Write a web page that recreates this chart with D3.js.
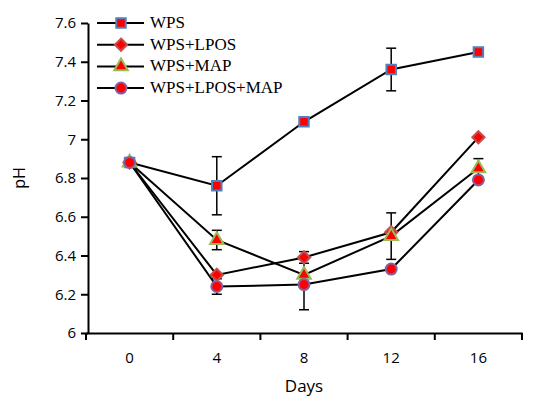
<!DOCTYPE html>
<html>
<head>
<meta charset="utf-8">
<script src="https://cdn.jsdelivr.net/npm/d3@7"></script>
<style>
  body { margin: 0; background: #fff; }
  svg { display: block; }
  .tick text { font-family: "Open Sans", sans-serif; font-size: 15px; fill: #000; }
</style>
</head>
<body>
<div class="svg-content"></div>
<script>
// data
var days = ["0", "4", "8", "12", "16"];
var seriesNames = ["WPS", "WPS+LPOS", "WPS+MAP", "WPS+LPOS+MAP"];
var wps        = [6.88, 6.76, 7.09, 7.36, 7.45];
var wpsLpos    = [6.88, 6.30, 6.39, 6.52, 7.01];
var wpsMap     = [6.88, 6.48, 6.30, 6.50, 6.85];
var wpsLposMap = [6.88, 6.24, 6.25, 6.33, 6.79];
var wpsErr        = [0, 0.15, 0.02, 0.11, 0];
var wpsLposErr    = [0, 0, 0.03, 0, 0];
var wpsMapErr     = [0, 0.05, 0, 0.12, 0.05];
var wpsLposMapErr = [0, 0.04, 0.13, 0, 0];
var yTicks = [6, 6.2, 6.4, 6.6, 6.8, 7, 7.2, 7.4, 7.6];

// square diamond (rotated square) marker
var diamond = {
  draw: function(ctx, size) {
    var r = Math.sqrt(size / 2);
    ctx.moveTo(0, -r); ctx.lineTo(r, 0); ctx.lineTo(0, r); ctx.lineTo(-r, 0); ctx.closePath();
  }
};

var series = [
  { name: seriesNames[0], values: wps,        err: wpsErr,        shape: d3.symbolSquare,   stroke: "#4f81bd", size: 90 },
  { name: seriesNames[1], values: wpsLpos,    err: wpsLposErr,    shape: diamond,           stroke: "#c0504d", size: 75 },
  { name: seriesNames[2], values: wpsMap,     err: wpsMapErr,     shape: d3.symbolTriangle, stroke: "#9bbb59", size: 80 },
  { name: seriesNames[3], values: wpsLposMap, err: wpsLposMapErr, shape: d3.symbolCircle,   stroke: "#8064a2", size: 95 }
];

var W = 536, H = 396;
var mLeft = 86, mRight = 522, mTop = 23, mBottom = 333;

var svg = d3.select(".svg-content").append("svg")
    .attr("width", W)
    .attr("height", H);

var x = d3.scaleBand().domain(days).range([mLeft, mRight]).padding(0);
var y = d3.scaleLinear().domain([6, 7.6]).range([mBottom, mTop]);
var cx = function(i) { return x(days[i]) + x.bandwidth() / 2; };

// y axis
var yAxis = svg.append("g")
    .attr("transform", "translate(" + (mLeft + 2) + ",0)")
    .call(d3.axisLeft(y).tickValues(yTicks).tickSize(7).tickSizeOuter(0)
        .tickFormat(function(d) { return d3.format("~g")(d); }));
yAxis.select(".domain").attr("stroke-width", 2);
yAxis.selectAll(".tick line").attr("stroke-width", 2);
yAxis.selectAll(".tick text").attr("x", -12);

// x axis: labels in the middle of each band, ticks between bands
var xAxis = svg.append("g")
    .attr("transform", "translate(0," + mBottom + ")")
    .call(d3.axisBottom(x).tickSize(0).tickSizeOuter(0).tickPadding(19));
xAxis.select(".domain").attr("stroke-width", 2);
xAxis.selectAll(".bound")
    .data(days.concat(["end"]))
    .enter().append("line")
    .attr("class", "bound")
    .attr("x1", function(d, i) { return i < days.length ? x(d) : mRight; })
    .attr("x2", function(d, i) { return i < days.length ? x(d) : mRight; })
    .attr("y1", 0).attr("y2", 7)
    .attr("stroke", "#000").attr("stroke-width", 2);

// axis titles
svg.append("text")
    .attr("transform", "translate(25," + ((mTop + mBottom) / 2) + ") rotate(-90)")
    .attr("text-anchor", "middle")
    .attr("font-family", "Open Sans, sans-serif")
    .attr("font-size", 16)
    .text("pH");
svg.append("text")
    .attr("x", (mLeft + mRight) / 2)
    .attr("y", 392)
    .attr("text-anchor", "middle")
    .attr("font-family", "Open Sans, sans-serif")
    .attr("font-size", 17)
    .text("Days");

var line = d3.line()
    .x(function(d, i) { return cx(i); })
    .y(function(d) { return y(d); });

// error bars
series.forEach(function(s) {
  var g = svg.append("g");
  s.values.forEach(function(v, i) {
    var e = s.err[i];
    if (!e) return;
    var xx = cx(i);
    g.append("line").attr("x1", xx).attr("x2", xx).attr("y1", y(v - e)).attr("y2", y(v + e))
        .attr("stroke", "#000").attr("stroke-width", 1.5);
    [v - e, v + e].forEach(function(t) {
      g.append("line").attr("x1", xx - 5).attr("x2", xx + 5).attr("y1", y(t)).attr("y2", y(t))
          .attr("stroke", "#000").attr("stroke-width", 1.5);
    });
  });
});

// lines and markers
series.forEach(function(s) {
  svg.append("path")
      .datum(s.values)
      .attr("d", line)
      .attr("fill", "none")
      .attr("stroke", "#000")
      .attr("stroke-width", 2);
});
series.forEach(function(s) {
  svg.append("g").selectAll("path")
      .data(s.values)
      .enter().append("path")
      .attr("transform", function(d, i) { return "translate(" + cx(i) + "," + y(d) + ")"; })
      .attr("d", d3.symbol().type(s.shape).size(s.size))
      .attr("fill", "#ff0000")
      .attr("stroke", s.stroke)
      .attr("stroke-width", 2);
});

// legend
var legend = svg.append("g");
series.forEach(function(s, i) {
  var ly = 23 + i * 21.7;
  legend.append("line").attr("x1", 97).attr("x2", 144).attr("y1", ly).attr("y2", ly)
      .attr("stroke", "#000").attr("stroke-width", 2);
  legend.append("path")
      .attr("transform", "translate(121," + ly + ")")
      .attr("d", d3.symbol().type(s.shape).size(s.size))
      .attr("fill", "#ff0000")
      .attr("stroke", s.stroke)
      .attr("stroke-width", 2);
  legend.append("text")
      .attr("x", 150).attr("y", ly + 5)
      .attr("font-family", "Liberation Serif, serif")
      .attr("font-size", 17)
      .text(s.name);
});
</script>
</body>
</html>
